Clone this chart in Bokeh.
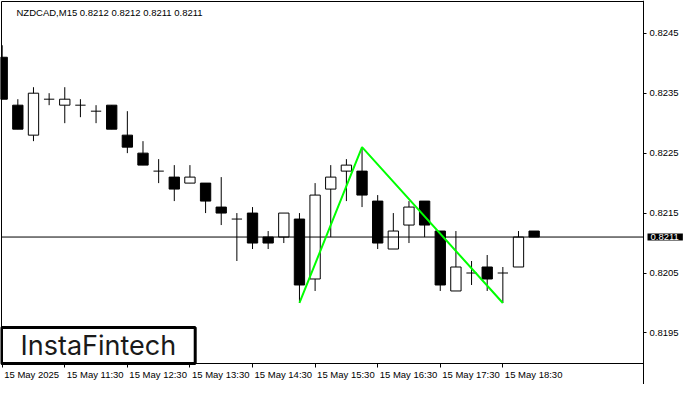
from bokeh.plotting import figure
from bokeh.models import (FixedTicker, Label, LabelSet, ColumnDataSource,
                          PrintfTickFormatter, Range1d, BoxAnnotation)
from bokeh.core.properties import value
from bokeh.embed import file_html
from bokeh.resources import INLINE

# ---- data (15-minute bars, 15 May 2025 from 10:30) ----
bar_idx = list(range(35))
opens = [0.8241, 0.8233, 0.8228, 0.8234, 0.8233, 0.8233, 0.8232, 0.8233, 0.8228, 0.8225,
         0.8222, 0.8221, 0.8220, 0.8220, 0.8216, 0.8214, 0.8215, 0.8211, 0.8211, 0.8214,
         0.8204, 0.8219, 0.8222, 0.8222, 0.8217, 0.8209, 0.8213, 0.8217, 0.8212, 0.8202,
         0.8205, 0.8206, 0.8205, 0.8206, 0.8212]
highs = [0.8243, 0.8234, 0.8236, 0.8235, 0.8236, 0.8234, 0.8233, 0.8233, 0.8232, 0.8227,
         0.8224, 0.8223, 0.8223, 0.8220, 0.8221, 0.8215, 0.8216, 0.8212, 0.8215, 0.8215,
         0.8220, 0.8223, 0.8224, 0.8226, 0.8218, 0.8215, 0.8217, 0.8217, 0.8212, 0.8212,
         0.8207, 0.8208, 0.8206, 0.8212, 0.8212]
lows = [0.8234, 0.8229, 0.8227, 0.8233, 0.8230, 0.8231, 0.8230, 0.8229, 0.8225, 0.8223,
        0.8220, 0.8217, 0.8220, 0.8215, 0.8213, 0.8207, 0.8209, 0.8209, 0.8210, 0.8200,
        0.8202, 0.8211, 0.8217, 0.8216, 0.8209, 0.8209, 0.8210, 0.8211, 0.8202, 0.8202,
        0.8203, 0.8202, 0.8200, 0.8206, 0.8211]
closes = [0.8234, 0.8229, 0.8235, 0.8234, 0.8234, 0.8233, 0.8232, 0.8229, 0.8226, 0.8223,
          0.8222, 0.8219, 0.8221, 0.8217, 0.8215, 0.8214, 0.8210, 0.8210, 0.8215, 0.8203,
          0.8218, 0.8221, 0.8223, 0.8218, 0.8210, 0.8212, 0.8216, 0.8213, 0.8203, 0.8206,
          0.8205, 0.8204, 0.8205, 0.8211, 0.8211]

time_tick_idx = [0, 4, 8, 12, 16, 20, 24, 28, 32]
time_tick_labels = ["15 May 2025", "15 May 11:30", "15 May 12:30", "15 May 13:30",
                    "15 May 14:30", "15 May 15:30", "15 May 16:30", "15 May 17:30",
                    "15 May 18:30"]
price_ticks = [0.8195, 0.8205, 0.8215, 0.8225, 0.8235, 0.8245]
current_price = 0.8211
symbol_title = "NZDCAD,M15  0.8212 0.8212 0.8211 0.8211"
logo_text = "InstaFintech"
# double-top pattern: low bar, peak bar, low bar
pattern_idx = [19, 23, 32]
pattern_price = [lows[19], highs[23], lows[32]]

# ---- layout geometry ----
FONT = "Liberation Sans"
FS = "9.5px"
W, H = 684, 384
# chart box in canvas pixels and the data values at its edges
PLOT_LEFT_PX, PLOT_RIGHT_PX = 1, 643
PLOT_TOP_PX, PLOT_BOTTOM_PX = 1, 363
X_LEFT, X_RIGHT = -0.044, 40.99
Y_TOP, Y_BOTTOM = 0.82503, 0.81899
BODY_W = 0.66

px_per_x = (PLOT_RIGHT_PX - PLOT_LEFT_PX) / (X_RIGHT - X_LEFT)
px_per_y = (PLOT_BOTTOM_PX - PLOT_TOP_PX) / (Y_TOP - Y_BOTTOM)
x_range = Range1d(X_LEFT - PLOT_LEFT_PX / px_per_x, X_RIGHT + (W - PLOT_RIGHT_PX) / px_per_x)
y_range = Range1d(Y_BOTTOM - (H - PLOT_BOTTOM_PX) / px_per_y, Y_TOP + PLOT_TOP_PX / px_per_y)

p = figure(width=W, height=H, output_backend="svg", toolbar_location=None,
           y_axis_location="right", x_range=x_range, y_range=y_range,
           min_border_left=0, min_border_top=0, min_border_right=0, min_border_bottom=0,
           background_fill_color="white", border_fill_color="white")
p.grid.visible = False
p.outline_line_color = None

# chart border
p.add_layout(BoxAnnotation(left=X_LEFT, right=X_RIGHT, bottom=Y_BOTTOM, top=Y_TOP,
                           fill_alpha=0, line_color="black", line_width=1, line_alpha=1))

# wicks
p.segment(x0=bar_idx, y0=lows, x1=bar_idx, y1=highs, line_color="black", line_width=1)

# bodies
bx, btop, bbot, bfill = [], [], [], []
dx0, dx1, dy = [], [], []
for i, o, c in zip(bar_idx, opens, closes):
    if abs(o - c) < 1e-9:
        dx0.append(i - BODY_W / 2)
        dx1.append(i + BODY_W / 2)
        dy.append(o)
    else:
        bx.append(i)
        btop.append(max(o, c))
        bbot.append(min(o, c))
        bfill.append("white" if c > o else "black")
src = ColumnDataSource(dict(x=bx, top=btop, bottom=bbot, fill=bfill))
p.vbar(x="x", width=BODY_W, top="top", bottom="bottom", fill_color="fill",
       line_color="black", line_width=1, source=src)
p.segment(x0=dx0, y0=dy, x1=dx1, y1=dy, line_color="black", line_width=1)

# current price line (ends at chart border)
p.line([X_LEFT, X_RIGHT], [current_price, current_price], line_color="black", line_width=1)

# pattern line
p.line(pattern_idx, pattern_price, line_color="#00ff00", line_width=2)

# price axis (right), pinned to the chart border
ya = p.yaxis[0]
ya.fixed_location = X_RIGHT
ya.ticker = FixedTicker(ticks=price_ticks)
ya.formatter = PrintfTickFormatter(format="%.4f")
ya.major_tick_out = 3
ya.major_tick_in = 0
ya.minor_tick_out = 0
ya.minor_tick_in = 0
ya.major_label_standoff = 3
ya.axis_line_color = "black"
ya.major_tick_line_color = "black"
ya.major_label_text_font = FONT
ya.major_label_text_font_size = FS
ya.major_label_text_color = "black"

# time axis (below), pinned to the chart border; labels drawn left-aligned below
xa = p.xaxis[0]
xa.fixed_location = Y_BOTTOM
xa.ticker = FixedTicker(ticks=time_tick_idx)
xa.major_label_overrides = {i: "" for i in time_tick_idx}
xa.major_tick_out = 4
xa.major_tick_in = 0
xa.minor_tick_out = 0
xa.minor_tick_in = 0
xa.axis_line_color = None
xa.major_tick_line_color = "black"

time_src = ColumnDataSource(dict(x=time_tick_idx, y=[Y_BOTTOM] * len(time_tick_idx),
                                 text=time_tick_labels))
p.add_layout(LabelSet(x="x", y="y", text="text", source=time_src, x_offset=2, y_offset=-5,
                      text_font=value(FONT), text_font_size=value(FS), text_color="black",
                      text_align="left", text_baseline="top"))

# title text
p.add_layout(Label(x=X_LEFT, y=Y_TOP, x_offset=15, y_offset=-5,
                   text=symbol_title, text_font=FONT, text_font_size=FS,
                   text_color="black", text_align="left", text_baseline="top"))

# current price tag
p.add_layout(Label(x=X_RIGHT, y=current_price, x_offset=4,
                   text=f"{current_price:.4f}", text_font=FONT, text_font_size=FS,
                   text_color="white", text_align="left", text_baseline="middle",
                   background_fill_color="black",
                   padding=dict(left=3, right=4, top=0, bottom=1)))

# logo
p.add_layout(Label(x=X_LEFT, y=Y_BOTTOM,
                   text=logo_text, text_font="Inter", text_font_size="27px",
                   text_color="#1a1a1a", text_align="left", text_baseline="bottom",
                   background_fill_color="white", border_line_color="black",
                   border_line_width=3, padding=dict(left=19, right=19, top=1, bottom=2)))

open("out.html", "w").write(file_html(p, INLINE))
